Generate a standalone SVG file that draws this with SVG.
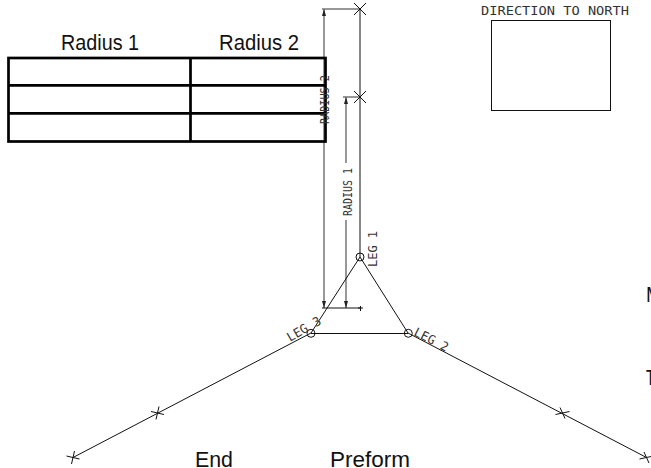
<svg xmlns="http://www.w3.org/2000/svg" width="651" height="468" viewBox="0 0 651 468">
<defs>
<style>
.ln{stroke:#111;stroke-width:1;fill:none}
.dim{stroke:#777;stroke-width:1.500;fill:none}
.tb{stroke:#000;stroke-width:2.700;fill:none}
.cad{font-family:"DejaVu Sans Mono",monospace;font-size:12.500px;fill:#333}
.lab{font-family:"Liberation Sans",Arial,sans-serif;font-size:22.500px;fill:#111}
.ar{fill:#222;stroke:none}
</style>
<g id="x"><path d="M-6-6L6 6M-6 6L6-6" class="ln"/></g>
<g id="tl"><path d="M-6.500-1.500L6.500 1.500M-1.500 6.500L1.500-6.500" class="ln"/></g>
<g id="tr"><path d="M-7 1.500L7-1.500M-2.500-5.500L2.500 5.500" class="ln"/></g>
</defs>
<rect width="651" height="468" fill="#fff"/>
<g id="connectors">
<path class="dim" d="M324 9V165M324 165V308M322 9H360M346 97V163M346 220V308M343 97H360"/>
<path class="ln" d="M360 9V257M322 308H360M358 308H363M360.500 306V311"/>
<path class="ln" d="M360 257L311 333L73 457.500M360 257L408 333L646.500 457.500M311 333.500H408"/>
<path class="ar" d="M324 9l-2 7h4zM346 97l-2 7h4zM324 308l-2-7h4zM346 308l-2-7h4z"/>
<use href="#x" x="360" y="9"/><use href="#x" x="360" y="97"/>
<use href="#tl" x="157.500" y="413"/><use href="#tl" x="73" y="457.500"/>
<use href="#tr" x="562.500" y="413"/><use href="#tr" x="646.500" y="457.500"/>
</g>
<g id="table">
<rect class="tb" x="8.500" y="58" width="317" height="83.500"/>
<path class="tb" d="M8.500 85.300H325.500M8.500 113.300H325.500M190.500 58V141.500"/>
<text class="lab" x="61" y="50" textLength="78" lengthAdjust="spacingAndGlyphs">Radius 1</text>
<text class="lab" x="219" y="50" textLength="80" lengthAdjust="spacingAndGlyphs">Radius 2</text>
</g>
<g id="north">
<rect class="ln" x="491.500" y="20.500" width="119" height="90"/>
<text class="cad" x="481" y="15" textLength="148" lengthAdjust="spacingAndGlyphs">DIRECTION TO NORTH</text>
</g>
<g id="node1"><circle class="ln" cx="360" cy="257" r="4"/>
<text class="cad" transform="translate(377 267) rotate(-90)" textLength="36" lengthAdjust="spacingAndGlyphs">LEG 1</text></g>
<g id="node2"><circle class="ln" cx="408.300" cy="333.300" r="4"/>
<text class="cad" transform="translate(413 335) rotate(27)" textLength="37" lengthAdjust="spacingAndGlyphs">LEG 2</text></g>
<g id="node3"><circle class="ln" cx="311" cy="333.300" r="4"/>
<text class="cad" transform="translate(290 342) rotate(-30)" textLength="37" lengthAdjust="spacingAndGlyphs">LEG 3</text></g>
<g id="dims">
<text class="cad" transform="translate(352 216) rotate(-90)" textLength="48" lengthAdjust="spacingAndGlyphs">RADIUS 1</text>
<text class="cad" transform="translate(329 124) rotate(-90)" textLength="49" lengthAdjust="spacingAndGlyphs">RADIUS 2</text>
</g>
<g id="labels">
<text class="lab" x="195" y="467" textLength="38" lengthAdjust="spacingAndGlyphs">End</text>
<text class="lab" x="330" y="467" textLength="80" lengthAdjust="spacingAndGlyphs">Preform</text>
<text class="lab" x="646" y="302" textLength="16" lengthAdjust="spacingAndGlyphs">M</text>
<text class="lab" x="646" y="385" textLength="9" lengthAdjust="spacingAndGlyphs">T</text>
</g>
</svg>
